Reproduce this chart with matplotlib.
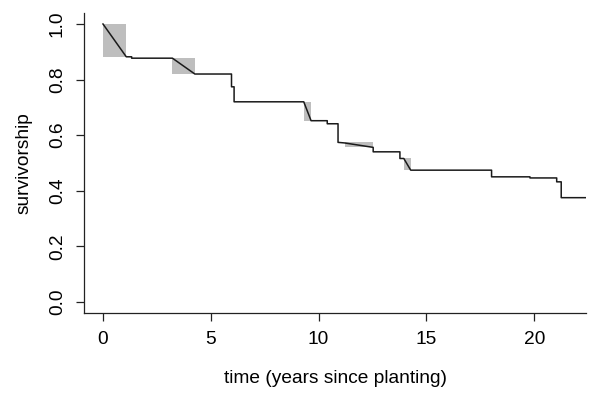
import matplotlib
matplotlib.use('Agg')
import matplotlib.pyplot as plt
from matplotlib.patches import Rectangle

plt.rcParams['font.family'] = ['Liberation Sans', 'DejaVu Sans']

# survivorship curve vertices (years since planting, survivorship)
time = [0, 1.08, 1.33, 1.33, 3.22, 4.26, 5.96, 5.96, 6.08, 6.08, 9.31, 9.65,
        10.40, 10.40, 10.90, 10.90, 11.20, 12.53, 12.53, 13.77, 13.77, 13.95,
        14.27, 18.02, 18.02, 19.80, 19.80, 21.04, 21.04, 21.25, 21.25, 22.6]
surv = [1.0, 0.882, 0.882, 0.877, 0.877, 0.82, 0.82, 0.774, 0.774, 0.72, 0.72, 0.652,
        0.652, 0.641, 0.641, 0.574, 0.572, 0.556, 0.540, 0.540, 0.516, 0.516,
        0.474, 0.474, 0.450, 0.450, 0.446, 0.446, 0.432, 0.432, 0.375, 0.375]

# interval boxes (start, end, low, high)
box_start = [0, 3.22, 9.31, 11.20, 13.95]
box_end = [1.08, 4.28, 9.65, 12.53, 14.27]
box_low = [0.882, 0.820, 0.652, 0.556, 0.474]
box_high = [1.0, 0.877, 0.72, 0.574, 0.516]

x_ticks = [0, 5, 10, 15, 20]
y_ticks = [0.0, 0.2, 0.4, 0.6, 0.8, 1.0]

fig = plt.figure(figsize=(5.92, 3.93), dpi=100)
ax = fig.add_axes([0.1419, 0.2036, 0.848, 0.7636])

for x0, x1, lo, hi in zip(box_start, box_end, box_low, box_high):
    ax.add_patch(Rectangle((x0, lo), x1 - x0, hi - lo, facecolor='#bebebe',
                           edgecolor='none', zorder=1))

ax.plot(time, surv, color='#1a1a1a', lw=1.1, zorder=2)

ax.set_xlim(-0.88, 22.4)
ax.set_ylim(-0.04, 1.04)
ax.set_xticks(x_ticks)
ax.set_xticklabels([str(t) for t in x_ticks])
ax.set_yticks(y_ticks)
ax.set_yticklabels(['%.1f' % t for t in y_ticks], rotation=90, va='center')

for s in ['top', 'right']:
    ax.spines[s].set_visible(False)
for s in ['left', 'bottom']:
    ax.spines[s].set_linewidth(0.9)
    ax.spines[s].set_color('#222222')

ax.tick_params(direction='out', length=6, width=0.9, color='#222222',
               labelsize=13.8, pad=7)
ax.set_xlabel('time (years since planting)', fontsize=13.8, labelpad=16)
ax.set_ylabel('survivorship', fontsize=13.8, labelpad=12)

fig.savefig('out.png', dpi=100)
